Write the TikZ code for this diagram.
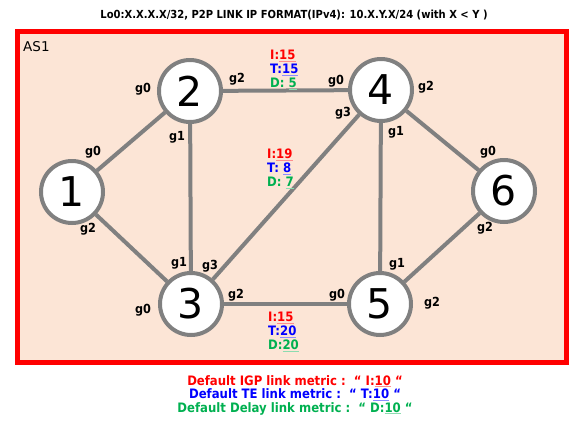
\documentclass[tikz,border=0pt]{standalone}
\usepackage{fontspec}
\setmainfont{DejaVu Sans}
\newfontfamily\condfont{DejaVu Sans Condensed}
\usetikzlibrary{positioning}

\definecolor{asfill}{RGB}{252,229,214}
\definecolor{linkgray}{RGB}{128,128,128}
\definecolor{igpred}{RGB}{255,0,0}
\definecolor{teblue}{RGB}{0,0,255}
\definecolor{dlygreen}{RGB}{0,176,80}
\newcommand\mval[2]{\textcolor{#1!45}{\underline{\textcolor{#1}{#2}}}}

\begin{document}
\begin{tikzpicture}[x=1pt,y=-1pt,
  router/.style={circle,draw=linkgray,line width=4pt,fill=white,minimum size=62pt,
    inner sep=0pt,font=\fontsize{41}{41}\selectfont},
  link/.style={draw=linkgray,line width=4pt},
  port/.style={font=\condfont\bfseries\fontsize{12.5}{12.5}\selectfont,inner sep=0pt},
  metric/.style={font=\condfont\bfseries\fontsize{13}{14}\selectfont,align=left,inner sep=0pt,anchor=north west}]
\useasboundingbox (0,0) rectangle (586,426);
% title and AS frame
\node[font=\condfont\bfseries\fontsize{11.1}{13}\selectfont] (title) at (294,15)
  {Lo0:X.X.X.X/32, P2P LINK IP FORMAT(IPv4): 10.X.Y.X/24 (with X < Y )};
\draw[draw=igpred,line width=5pt,fill=asfill] (17,31) rectangle (566,362);
\node[anchor=west,font=\fontsize{13.5}{14}\selectfont,inner sep=0pt] (as1) at (23,47) {AS1};
% routers
\node[router] (r1) at (72,192) {1};
\node[router] (r2) at (190,91) {2};
\node[router] (r3) at (191,304) {3};
\node[router] (r4) at (381,90) {4};
\node[router] (r5) at (380,304) {5};
\node[router] (r6) at (504,191) {6};
% links
\draw[link] (r1) -- (r2);
\draw[link] (r1) -- (r3);
\draw[link] (r2) -- (r3);
\draw[link] (r2) -- (r4);
\draw[link] (r3) -- (r4);
\draw[link] (r3) -- (r5);
\draw[link] (r4) -- (r5);
\draw[link] (r4) -- (r6);
\draw[link] (r5) -- (r6);
% interface names
\node[port] (p1a) at (93,152) {g0};
\node[port] (p1b) at (88,229) {g2};
\node[port] (p2a) at (143,89) {g0};
\node[port] (p2b) at (237,79) {g2};
\node[port] (p2c) at (177,137) {g1};
\node[port] (p3a) at (179,263) {g1};
\node[port] (p3b) at (210,266) {g3};
\node[port] (p3c) at (236,295) {g2};
\node[port] (p3d) at (143,310) {g0};
\node[port] (p4a) at (336,81) {g0};
\node[port] (p4b) at (426,87) {g2};
\node[port] (p4c) at (343,113) {g3};
\node[port] (p4d) at (396,132) {g1};
\node[port] (p5a) at (337,295) {g0};
\node[port] (p5b) at (397,264) {g1};
\node[port] (p5c) at (432,303) {g2};
\node[port] (p6a) at (488,152) {g0};
\node[port] (p6b) at (485,228) {g2};
% link metrics
\node[metric] (m24) at (270,49.5)
  {\textcolor{igpred}{I:}\mval{igpred}{15}\\
   \textcolor{teblue}{T:}\mval{teblue}{15}\\
   \textcolor{dlygreen}{D: }\mval{dlygreen}{5}};
\node[metric] (m34) at (267,148.5)
  {\textcolor{igpred}{I:}\mval{igpred}{19}\\
   \textcolor{teblue}{T: }\mval{teblue}{8}\\
   \textcolor{dlygreen}{D: }\mval{dlygreen}{7}};
\node[metric] (m35) at (268,311.5)
  {\textcolor{igpred}{I:}\mval{igpred}{15}\\
   \textcolor{teblue}{T:}\mval{teblue}{20}\\
   \textcolor{dlygreen}{D:}\mval{dlygreen}{20}};
% default metrics
\node[font=\condfont\bfseries\fontsize{13}{13.5}\selectfont,align=center] (legend) at (295,395)
  {\textcolor{igpred}{Default IGP link metric :~~“ I:}\mval{igpred}{10}\textcolor{igpred}{~“}\\
   \textcolor{teblue}{Default TE link metric :~~“ T:}\mval{teblue}{10}\textcolor{teblue}{~“}\\
   \textcolor{dlygreen}{Default Delay link metric :~~“ D:}\mval{dlygreen}{10}\textcolor{dlygreen}{~“}};
\end{tikzpicture}
\end{document}
